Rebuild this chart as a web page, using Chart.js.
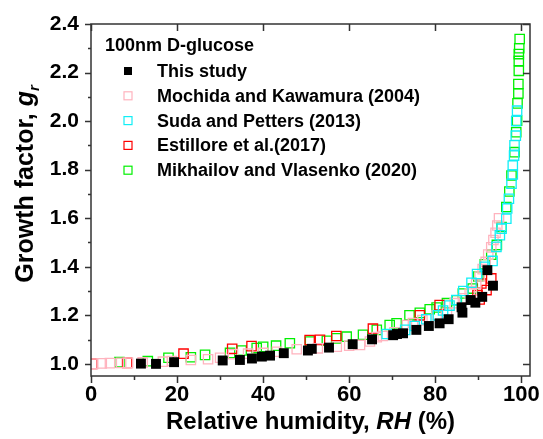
<!DOCTYPE html>
<html>
<head>
<meta charset="utf-8">
<script src="https://cdn.jsdelivr.net/npm/chart.js@4/dist/chart.umd.min.js"></script>
<style>
  html, body { margin: 0; padding: 0; background: #fff; }
  canvas { display: block; }
</style>
</head>
<body>
<canvas id="gf" width="543" height="439"></canvas>
<script>
// Hygroscopic growth factor of 100 nm D-glucose particles vs relative humidity

const seriesLabels = [
  'This study',
  'Mochida and Kawamura (2004)',
  'Suda and Petters (2013)',
  'Estillore et al.(2017)',
  'Mikhailov and Vlasenko (2020)'
];
const legendTitle = '100nm D-glucose';

const thisStudyRH = [11.6, 15.1, 19.3, 30.6, 34.6, 37.4, 39.7, 41.6, 44.8, 50.4, 51.3, 55.3, 60.8, 65.3,
  70.2, 71.1, 72.5, 75.6, 78.5, 81.0, 83.1, 86.1, 86.3, 88.2, 89.3, 90.9, 92.1, 93.4];
const thisStudyGF = [1.001, 1.000, 1.007, 1.014, 1.016, 1.022, 1.030, 1.034, 1.044, 1.055, 1.062, 1.067, 1.081, 1.101,
  1.118, 1.123, 1.126, 1.140, 1.156, 1.167, 1.184, 1.233, 1.211, 1.263, 1.252, 1.276, 1.386, 1.322];

const mochidaRH = [0.5, 2.5, 4.4, 7.0, 8.6, 12.0, 16.7, 18.8, 23.2, 27.2, 30.0, 33.0, 36.5, 40.0, 43.2, 47.8,
  52.7, 57.1, 60.0, 62.5, 64.8, 66.4, 67.8, 70.5, 73.4, 74.8, 77.0, 80.3, 82.7, 84.5, 86.4, 88.0,
  88.5, 89.5, 90.3, 91.0, 91.7, 92.3, 93.0, 93.5, 94.0, 94.4, 94.8];
const mochidaGF = [1.000, 1.002, 1.003, 1.004, 1.004, 1.006, 1.009, 1.012, 1.016, 1.019, 1.025, 1.040, 1.042, 1.045, 1.050, 1.060,
  1.064, 1.071, 1.075, 1.078, 1.092, 1.110, 1.115, 1.130, 1.160, 1.168, 1.180, 1.200, 1.210, 1.250, 1.270, 1.290,
  1.300, 1.330, 1.360, 1.390, 1.420, 1.450, 1.480, 1.510, 1.540, 1.570, 1.600];

const sudaRH = [68.7, 73.0, 75.2, 77.9, 80.6, 81.8, 83.3, 84.9, 86.5, 88.4, 89.7, 91.5, 93.3, 94.2, 95.0, 95.4,
  96.5, 96.7, 97.1, 97.7, 98.0, 98.0, 98.3, 98.4, 98.7, 98.8, 99.0];
const sudaGF = [1.123, 1.140, 1.156, 1.184, 1.200, 1.220, 1.240, 1.263, 1.300, 1.334, 1.370, 1.400, 1.424, 1.482, 1.530, 1.557,
  1.598, 1.640, 1.680, 1.742, 1.780, 1.817, 1.858, 1.900, 1.940, 2.000, 2.043];

const estilloreRH = [0.3, 8.4, 21.5, 32.8, 37.3, 50.8, 53.2, 57.0, 65.5, 76.4, 81.0, 89.8, 90.3, 90.7, 91.9, 93.0];
const estilloreGF = [1.000, 1.004, 1.042, 1.062, 1.073, 1.098, 1.099, 1.115, 1.145, 1.200, 1.242, 1.283, 1.265, 1.331, 1.304, 1.352];

const mikhailovRH = [6.6, 13.2, 18.0, 23.2, 26.5, 32.3, 35.0, 38.5, 40.0, 43.0, 46.2, 50.9, 54.8, 57.0, 59.4, 63.2,
  66.4, 69.4, 71.0, 74.0, 76.4, 78.7, 80.3, 82.7, 85.0, 86.4, 88.7, 90.0, 91.5, 93.0, 94.3, 95.4,
  96.5, 97.2, 97.7, 98.4, 98.8, 99.0, 99.1, 99.3, 99.3, 99.4, 99.4, 99.4, 99.5, 99.6];
const mikhailovGF = [1.007, 1.011, 1.025, 1.027, 1.037, 1.045, 1.055, 1.065, 1.070, 1.075, 1.085, 1.092, 1.095, 1.105, 1.112, 1.120,
  1.140, 1.160, 1.167, 1.200, 1.210, 1.225, 1.232, 1.250, 1.262, 1.290, 1.310, 1.360, 1.410, 1.450, 1.490, 1.564,
  1.646, 1.710, 1.776, 1.872, 1.954, 2.002, 2.073, 2.114, 2.153, 2.207, 2.248, 2.276, 2.300, 2.338];

const xTickValues = [0, 20, 40, 60, 80, 100];
const xMinorValues = [10, 30, 50, 70, 90];
const yTickValues = [1.0, 1.2, 1.4, 1.6, 1.8, 2.0, 2.2, 2.4];
const yMinorValues = [1.1, 1.3, 1.5, 1.7, 1.9, 2.1, 2.3];

const FONT = '"Liberation Sans", Arial, Helvetica, sans-serif';
const AXIS_COLOR = '#333';

function pts(xs, ys) { return xs.map((x, i) => ({ x: x, y: ys[i] })); }

function hollow(label, xs, ys, color, order) {
  return {
    label: label, data: pts(xs, ys), order: order,
    pointStyle: 'rect', pointRadius: 6.6, pointHoverRadius: 6.6,
    pointBackgroundColor: 'rgba(255,255,255,0)', pointBorderColor: color, pointBorderWidth: 1.3,
    showLine: false
  };
}

const datasets = [
  {
    label: seriesLabels[0], data: pts(thisStudyRH, thisStudyGF), order: 0,
    pointStyle: 'rect', pointRadius: 7, pointHoverRadius: 7,
    pointBackgroundColor: '#000', pointBorderColor: '#000', pointBorderWidth: 0, showLine: false
  },
  hollow(seriesLabels[1], mochidaRH, mochidaGF, '#FFB3BE', 2),
  hollow(seriesLabels[2], sudaRH, sudaGF, '#11EEF6', 1),
  hollow(seriesLabels[3], estilloreRH, estilloreGF, '#FF0000', 3),
  hollow(seriesLabels[4], mikhailovRH, mikhailovGF, '#00F000', 4)
];

// Box frame with outward ticks on bottom/left and inward ticks on top/right
const framePlugin = {
  id: 'frameTicks',
  afterDraw(chart) {
    const ctx = chart.ctx;
    const { left, right, top, bottom } = chart.chartArea;
    const xs = chart.scales.x, ys = chart.scales.y;
    ctx.save();
    ctx.strokeStyle = AXIS_COLOR;
    ctx.lineWidth = 1.5;
    ctx.strokeRect(left, top, right - left, bottom - top);
    ctx.beginPath();
    xTickValues.forEach(v => {
      const p = Math.round(xs.getPixelForValue(v)) + 0.5;
      ctx.moveTo(p, bottom); ctx.lineTo(p, bottom + 7);
      ctx.moveTo(p, top); ctx.lineTo(p, top + 7);
    });
    xMinorValues.forEach(v => {
      const p = Math.round(xs.getPixelForValue(v)) + 0.5;
      ctx.moveTo(p, bottom); ctx.lineTo(p, bottom + 4);
    });
    yTickValues.forEach(v => {
      const p = Math.round(ys.getPixelForValue(v)) + 0.5;
      ctx.moveTo(left, p); ctx.lineTo(left - 6, p);
      ctx.moveTo(right, p); ctx.lineTo(right - 7, p);
    });
    yMinorValues.forEach(v => {
      const p = Math.round(ys.getPixelForValue(v)) + 0.5;
      ctx.moveTo(left, p); ctx.lineTo(left - 3, p);
    });
    ctx.stroke();
    ctx.restore();
  }
};

// Draws a run of styled text pieces starting at startX, baseline alphabetic
function drawRuns(ctx, runs, startX) {
  let x = startX;
  runs.forEach(r => {
    ctx.font = r.font;
    ctx.fillText(r.text, x, r.dy || 0);
    x += ctx.measureText(r.text).width;
  });
}
function runsWidth(ctx, runs) {
  let w = 0;
  runs.forEach(r => { ctx.font = r.font; w += ctx.measureText(r.text).width; });
  return w;
}

// Axis titles with italic symbols
const titlesPlugin = {
  id: 'axisTitles',
  afterDraw(chart) {
    const ctx = chart.ctx;
    const { left, right } = chart.chartArea;
    ctx.save();
    ctx.fillStyle = '#000';
    ctx.textBaseline = 'alphabetic';
    ctx.textAlign = 'left';

    const b = 'bold 24px ' + FONT, bi = 'italic bold 24px ' + FONT;
    const xRuns = [
      { text: 'Relative humidity, ', font: b },
      { text: 'RH', font: bi },
      { text: ' (%)', font: b }
    ];
    const xw = runsWidth(ctx, xRuns);
    ctx.save();
    ctx.translate((left + right) / 2, 429);
    drawRuns(ctx, xRuns, -xw / 2);
    ctx.restore();

    const yb = 'bold 25px ' + FONT, ybi = 'italic bold 25px ' + FONT;
    const yRuns = [
      { text: 'Growth factor, ', font: yb },
      { text: 'g', font: ybi },
      { text: 'r', font: 'italic bold 15px ' + FONT, dy: 6 }
    ];
    const yw = runsWidth(ctx, yRuns);
    ctx.save();
    ctx.translate(33, 184);
    ctx.rotate(-Math.PI / 2);
    drawRuns(ctx, yRuns, -yw / 2);
    ctx.restore();
    ctx.restore();
  }
};

// Legend inside the plot box, with its title
const legendPlugin = {
  id: 'boxLegend',
  afterDraw(chart) {
    const ctx = chart.ctx;
    ctx.save();
    ctx.fillStyle = '#000';
    ctx.textBaseline = 'middle';
    ctx.textAlign = 'left';
    ctx.font = 'bold 18px ' + FONT;
    ctx.fillText(legendTitle, 105, 46);
    chart.data.datasets.forEach((ds, i) => {
      const y = 71 + i * 24.8;
      const s = 8;
      if (ds.pointBorderWidth === 0) {
        ctx.fillStyle = ds.pointBackgroundColor;
        ctx.fillRect(128 - s / 2, y - s / 2, s, s);
      } else {
        ctx.strokeStyle = ds.pointBorderColor;
        ctx.lineWidth = 1.2;
        ctx.strokeRect(128 - s / 2, y - s / 2, s, s);
      }
      ctx.fillStyle = '#000';
      ctx.fillText(ds.label, 157, y + 1);
    });
    ctx.restore();
  }
};

new Chart(document.getElementById('gf'), {
  type: 'scatter',
  data: { datasets: datasets },
  options: {
    responsive: false,
    animation: false,
    layout: { padding: { top: 24, right: 13, left: 0, bottom: 0 } },
    plugins: { legend: { display: false }, tooltip: { enabled: false } },
    scales: {
      x: {
        type: 'linear', position: 'bottom', min: 0, max: 102,
        afterBuildTicks: s => { s.ticks = xTickValues.map(v => ({ value: v })); },
        afterFit: s => { s.height = 63; s.paddingLeft = 0; s.paddingRight = 0; },
        grid: { display: false, drawTicks: false }, border: { display: false },
        ticks: {
          padding: 6, color: '#000', autoSkip: false, maxRotation: 0,
          font: { family: FONT, size: 22, weight: 'bold' },
          callback: v => String(v)
        }
      },
      y: {
        type: 'linear', position: 'left', min: 0.95, max: 2.4,
        afterBuildTicks: s => { s.ticks = yTickValues.map(v => ({ value: v })); },
        afterFit: s => { s.width = 91; s.paddingTop = 0; s.paddingBottom = 0; },
        grid: { display: false, drawTicks: false }, border: { display: false },
        ticks: {
          padding: 12, color: '#000', autoSkip: false,
          font: { family: FONT, size: 21, weight: 'bold' },
          callback: v => v.toFixed(1)
        }
      }
    }
  },
  plugins: [framePlugin, titlesPlugin, legendPlugin]
});
</script>
</body>
</html>
